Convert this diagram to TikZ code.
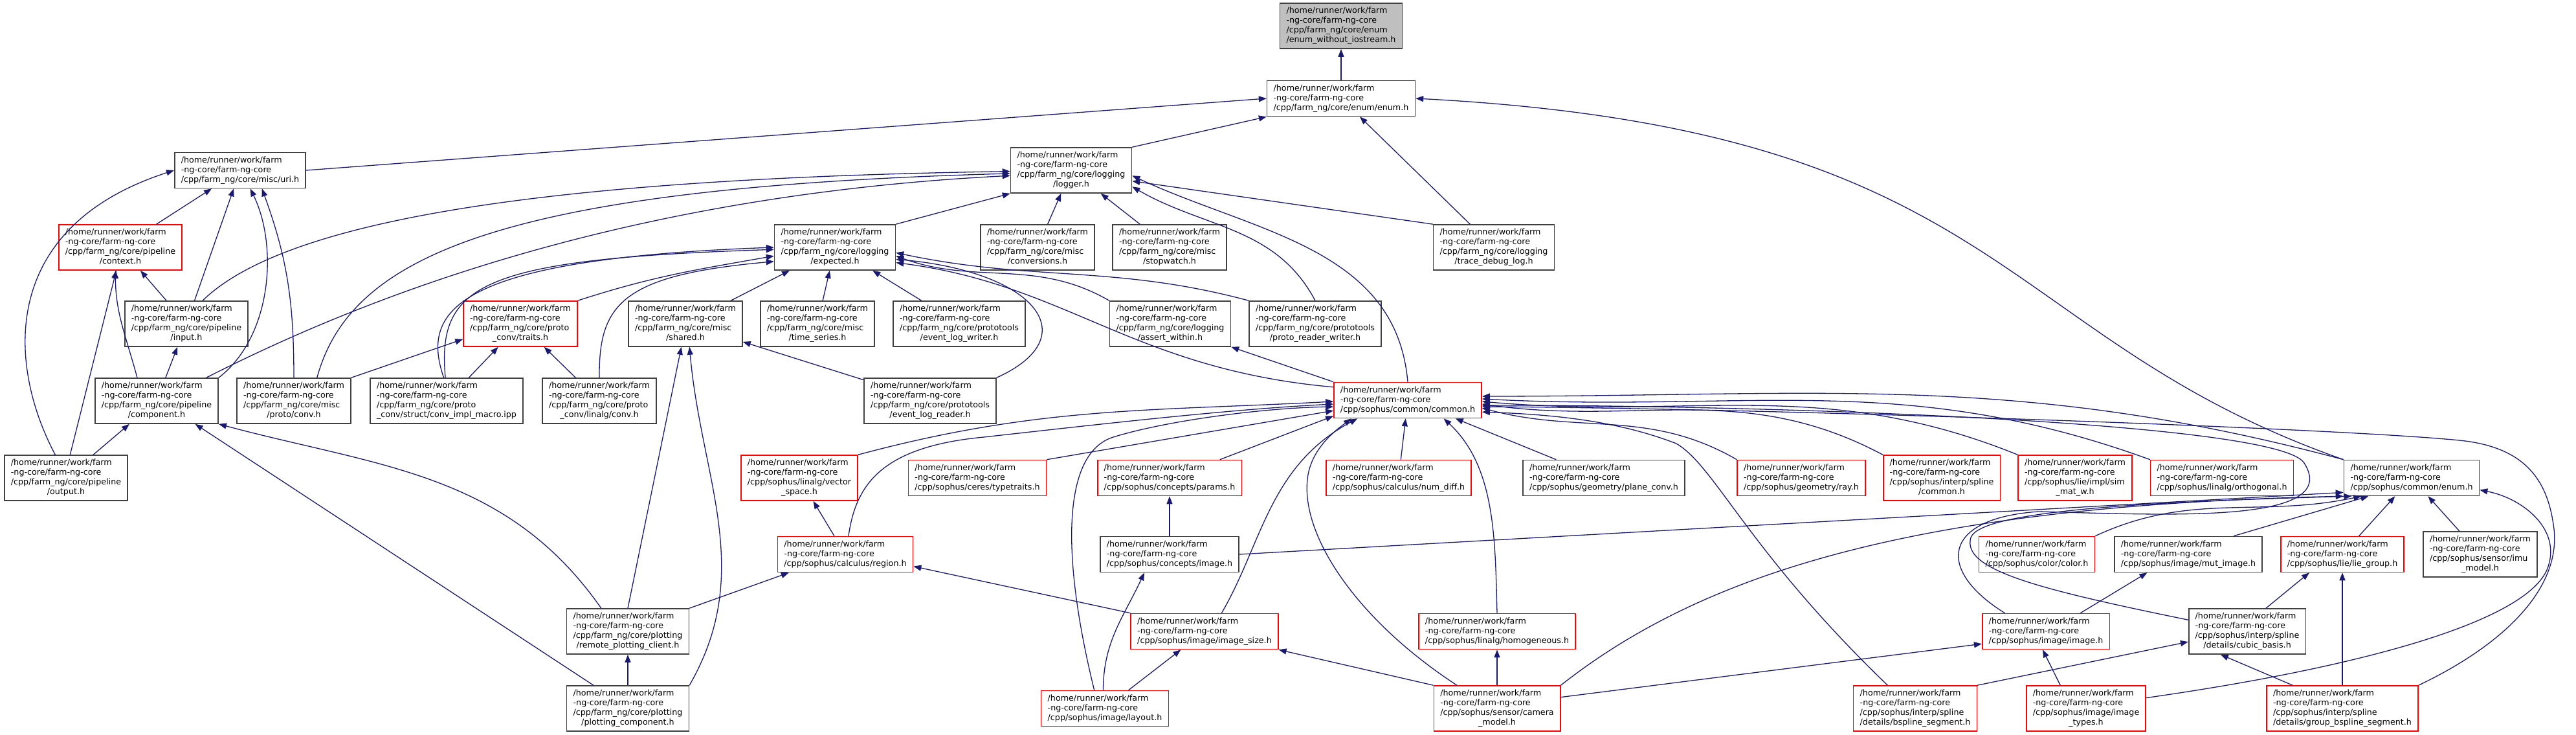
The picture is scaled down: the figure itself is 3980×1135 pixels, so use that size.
\documentclass[tikz,border=0pt]{standalone}
\usepackage{fontspec}
\setmainfont{DejaVu Sans}
\usetikzlibrary{arrows.meta}
\definecolor{edgenavy}{HTML}{191970}
\definecolor{boxedge}{HTML}{404040}
\definecolor{rootfill}{HTML}{BFBFBF}
\newcommand{\incthree}[1]{\begin{tabular}{@{}l@{}}/home/runner/work/farm\\-ng-core/farm-ng-core\\#1\end{tabular}}
\newcommand{\incfour}[2]{\begin{tabular}{@{}l@{}}/home/runner/work/farm\\-ng-core/farm-ng-core\\#1\\\multicolumn{1}{@{}c@{}}{#2}\end{tabular}}

\begin{document}
\begin{tikzpicture}[x=0.5pt, y=-0.5pt, font=\fontsize{6.35}{7.5}\selectfont,
  hfile/.style={draw=boxedge, line width=0.8pt, fill=white, inner xsep=5pt, inner ysep=2.5pt},
  hfilered/.style={hfile, draw=red},
  hfileroot/.style={hfile, fill=rootfill},
  incl/.style={draw=edgenavy, line width=0.65pt, -{Triangle[length=6pt,width=4.5pt]}}]
  \useasboundingbox (0,0) rectangle (3980,1135);

  \node[hfileroot] (root) at (2072,40) {\incfour{/cpp/farm\_ng/core/enum}{/enum\_without\_iostream.h}};
  \node[hfile] (coreenum) at (2072,152) {\incthree{/cpp/farm\_ng/core/enum/enum.h}};
  \node[hfile] (uri) at (371,263) {\incthree{/cpp/farm\_ng/core/misc/uri.h}};
  \node[hfile] (logger) at (1655,263) {\incfour{/cpp/farm\_ng/core/logging}{/logger.h}};
  \node[hfilered] (context) at (186,382) {\incfour{/cpp/farm\_ng/core/pipeline}{/context.h}};
  \node[hfile] (expected) at (1290,382) {\incfour{/cpp/farm\_ng/core/logging}{/expected.h}};
  \node[hfile] (conversions) at (1603,382) {\incfour{/cpp/farm\_ng/core/misc}{/conversions.h}};
  \node[hfile] (stopwatch) at (1807,382) {\incfour{/cpp/farm\_ng/core/misc}{/stopwatch.h}};
  \node[hfile] (tracelog) at (2308,382) {\incfour{/cpp/farm\_ng/core/logging}{/trace\_debug\_log.h}};
  \node[hfile] (input) at (288,500) {\incfour{/cpp/farm\_ng/core/pipeline}{/input.h}};
  \node[hfilered] (traits) at (804,500) {\incfour{/cpp/farm\_ng/core/proto}{\_conv/traits.h}};
  \node[hfile] (shared) at (1059,500) {\incfour{/cpp/farm\_ng/core/misc}{/shared.h}};
  \node[hfile] (timeseries) at (1263,500) {\incfour{/cpp/farm\_ng/core/misc}{/time\_series.h}};
  \node[hfile] (logwriter) at (1482,500) {\incfour{/cpp/farm\_ng/core/prototools}{/event\_log\_writer.h}};
  \node[hfile] (assertwithin) at (1808,500) {\incfour{/cpp/farm\_ng/core/logging}{/assert\_within.h}};
  \node[hfile] (protorw) at (2032,500) {\incfour{/cpp/farm\_ng/core/prototools}{/proto\_reader\_writer.h}};
  \node[hfile] (component) at (242,619) {\incfour{/cpp/farm\_ng/core/pipeline}{/component.h}};
  \node[hfile] (protoconv) at (454,619) {\incfour{/cpp/farm\_ng/core/misc}{/proto/conv.h}};
  \node[hfile] (convimpl) at (690,619) {\incfour{/cpp/farm\_ng/core/proto}{\_conv/struct/conv\_impl\_macro.ipp}};
  \node[hfile] (linalgconv) at (926,619) {\incfour{/cpp/farm\_ng/core/proto}{\_conv/linalg/conv.h}};
  \node[hfile] (logreader) at (1437,619) {\incfour{/cpp/farm\_ng/core/prototools}{/event\_log\_reader.h}};
  \node[hfilered] (common) at (2175,618) {\incthree{/cpp/sophus/common/common.h}};
  \node[hfile] (output) at (102,738) {\incfour{/cpp/farm\_ng/core/pipeline}{/output.h}};
  \node[hfilered] (vectorspace) at (1235,738) {\incfour{/cpp/sophus/linalg/vector}{\_space.h}};
  \node[hfilered] (typetraits) at (1510,738) {\incthree{/cpp/sophus/ceres/typetraits.h}};
  \node[hfilered] (params) at (1807,738) {\incthree{/cpp/sophus/concepts/params.h}};
  \node[hfilered] (numdiff) at (2161,738) {\incthree{/cpp/sophus/calculus/num\_diff.h}};
  \node[hfile] (planeconv) at (2478,738) {\incthree{/cpp/sophus/geometry/plane\_conv.h}};
  \node[hfilered] (ray) at (2783,738) {\incthree{/cpp/sophus/geometry/ray.h}};
  \node[hfilered] (splinecommon) at (3000,738) {\incfour{/cpp/sophus/interp/spline}{/common.h}};
  \node[hfilered] (simmatw) at (3206,738) {\incfour{/cpp/sophus/lie/impl/sim}{\_mat\_w.h}};
  \node[hfilered] (orthogonal) at (3433,738) {\incthree{/cpp/sophus/linalg/orthogonal.h}};
  \node[hfile] (sophusenum) at (3726,738) {\incthree{/cpp/sophus/common/enum.h}};
  \node[hfilered] (region) at (1306,856) {\incthree{/cpp/sophus/calculus/region.h}};
  \node[hfile] (conceptimage) at (1807,856) {\incthree{/cpp/sophus/concepts/image.h}};
  \node[hfilered] (color) at (3147,856) {\incthree{/cpp/sophus/color/color.h}};
  \node[hfile] (mutimage) at (3381,856) {\incthree{/cpp/sophus/image/mut\_image.h}};
  \node[hfilered] (liegroup) at (3619,856) {\incthree{/cpp/sophus/lie/lie\_group.h}};
  \node[hfile] (imumodel) at (3832,856) {\incfour{/cpp/sophus/sensor/imu}{\_model.h}};
  \node[hfile] (remoteclient) at (970,975) {\incfour{/cpp/farm\_ng/core/plotting}{/remote\_plotting\_client.h}};
  \node[hfilered] (imagesize) at (1861,975) {\incthree{/cpp/sophus/image/image\_size.h}};
  \node[hfilered] (homogeneous) at (2313,975) {\incthree{/cpp/sophus/linalg/homogeneous.h}};
  \node[hfilered] (image) at (3161,975) {\incthree{/cpp/sophus/image/image.h}};
  \node[hfile] (cubicbasis) at (3472,975) {\incfour{/cpp/sophus/interp/spline}{/details/cubic\_basis.h}};
  \node[hfile] (plotcomp) at (970,1094) {\incfour{/cpp/farm\_ng/core/plotting}{/plotting\_component.h}};
  \node[hfilered] (layout) at (1707,1094) {\incthree{/cpp/sophus/image/layout.h}};
  \node[hfilered] (camera) at (2313,1094) {\incfour{/cpp/sophus/sensor/camera}{\_model.h}};
  \node[hfilered] (bspline) at (2959,1094) {\incfour{/cpp/sophus/interp/spline}{/details/bspline\_segment.h}};
  \node[hfilered] (imagetypes) at (3223,1094) {\incfour{/cpp/sophus/image/image}{\_types.h}};
  \node[hfilered] (groupbspline) at (3619,1094) {\incfour{/cpp/sophus/interp/spline}{/details/group\_bspline\_segment.h}};

  \draw[incl] (coreenum) -- (root);
  \draw[incl] (uri.east) -- (coreenum.west);
  \draw[incl] (logger.north east) -- (coreenum.south west);
  \draw[incl] (tracelog) -- (coreenum);
  \draw[incl] (sophusenum.north west) .. controls (3080,520) and (3100,200) .. (coreenum.east);

  \draw[incl] (context) -- (uri);
  \draw[incl] (input) -- (uri);
  \draw[incl] (component.north east) .. controls (420,520) and (430,380) .. (uri.-61);
  \draw[incl] (protoconv.north) to[out=90,in=-70] (uri.-40);
  \draw[incl] (output.115) .. controls (10,560) and (0,350) .. (uri.west);

  \draw[incl] (expected.north east) -- (logger.south west);
  \draw[incl] (conversions) -- (logger);
  \draw[incl] (stopwatch) -- (logger);
  \draw[incl] (tracelog.north west) -- (logger.-10);
  \draw[incl] (protorw.north) to[out=118,in=-30] (logger.-15);
  \draw[incl] (common.north) to[out=95,in=-25] (logger.-5);
  \draw[incl] (input.55) .. controls (450,330) and (900,275) .. (logger.181);
  \draw[incl] (protoconv.45) .. controls (540,400) and (760,290) .. (logger.183);
  \draw[incl] (component.25) .. controls (600,440) and (1000,300) .. (logger.185);

  \draw[incl] (input) -- (context);
  \draw[incl] (component.130) to[out=105,in=-90] (context.-102);
  \draw[incl] (output.80) -- (context.-100);
  \draw[incl] (component) -- (input);
  \draw[incl] (output) -- (component);
  \draw[incl] (remoteclient.139) to[out=125,in=-15] (component.south east);
  \draw[incl] (plotcomp.146) -- (component.-31);

  \draw[incl] (shared) -- (expected);
  \draw[incl] (timeseries) -- (expected);
  \draw[incl] (logwriter) -- (expected);
  \draw[incl] (assertwithin.north west) to[out=150,in=-20] (expected.-8);
  \draw[incl] (protorw.north west) to[out=165,in=-12] (expected.-5);
  \draw[incl] (logreader.north east) .. controls (1680,520) and (1600,420) .. (expected.-11);
  \draw[incl] (common.170) .. controls (1750,570) and (1650,440) .. (expected.-14);
  \draw[incl] (traits.north east) to[out=18,in=190] (expected.188);
  \draw[incl] (linalgconv.north) .. controls (925,470) and (960,425) .. (expected.193);
  \draw[incl] (convimpl.97) .. controls (650,480) and (700,400) .. (expected.180);
  \draw[incl] (convimpl.93) .. controls (675,440) and (740,400) .. (expected.182);

  \draw[incl] (protoconv.north east) -- (traits.-165);
  \draw[incl] (convimpl) -- (traits);
  \draw[incl] (linalgconv) -- (traits);
  \draw[incl] (logreader) -- (shared);
  \draw[incl] (remoteclient.north) -- (shared.-100);
  \draw[incl] (plotcomp.north east) to[out=60,in=-85] (shared.-80);
  \draw[incl] (plotcomp) -- (remoteclient);
  \draw[incl] (common.north west) -- (assertwithin.south east);

  \draw[incl] (remoteclient.north east) -- (region.-162);
  \draw[incl] (region) -- (vectorspace);
  \draw[incl] (region.80) .. controls (1322,750) and (1360,690) .. (1520,675) .. controls (1700,655) and (1900,632) .. (common.183);
  \draw[incl] (vectorspace.north east) to[out=15,in=183] (common.181);
  \draw[incl] (typetraits.north east) -- (common.188);
  \draw[incl] (params.20) -- (common.-168);
  \draw[incl] (numdiff) -- (common);
  \draw[incl] (planeconv.159) -- (common.-21);
  \draw[incl] (ray.north west) to[out=150,in=-15] (common.-6);
  \draw[incl] (splinecommon.north west) to[out=152,in=-8] (common.-3);
  \draw[incl] (simmatw.north west) to[out=158,in=-5] (common.-1);
  \draw[incl] (orthogonal.north west) to[out=160,in=-3] (common.1);
  \draw[incl] (sophusenum.north west) to[out=165,in=0] (common.3);
  \draw[incl] (bspline.140) .. controls (2700,850) and (2650,720) .. (2590,685) .. controls (2500,650) and (2400,640) .. (common.-9);
  \draw[incl] (image.156) .. controls (2990,880) and (3000,800) .. (3150,790) .. controls (3350,795) and (3620,810) .. (3560,715) .. controls (3520,650) and (2700,625) .. (common.-4);
  \draw[incl] (groupbspline.north east) .. controls (3880,990) and (3960,900) .. (3945,810) .. controls (3935,740) and (3900,690) .. (3800,680) .. controls (3600,660) and (2700,630) .. (common.-5);

  \draw[incl] (conceptimage) -- (params);
  \draw[incl] (conceptimage.east) -- (sophusenum.-168);
  \draw[incl] (imagesize.north west) -- (region.-10);
  \draw[incl] (imagesize.47) .. controls (1950,840) and (1960,720) .. (common.-160);
  \draw[incl] (layout.120) .. controls (1640,860) and (1640,700) .. (1720,675) .. controls (1800,650) and (1950,630) .. (common.185);
  \draw[incl] (layout.95) to[out=90,in=-115] (conceptimage.-144);
  \draw[incl] (layout) -- (imagesize);
  \draw[incl] (camera.north west) -- (imagesize.south east);
  \draw[incl] (camera.150) .. controls (2100,960) and (2010,830) .. (2020,740) .. controls (2025,690) and (2070,660) .. (common.-162);
  \draw[incl] (camera) -- (homogeneous);
  \draw[incl] (homogeneous.north) .. controls (2310,830) and (2310,720) .. (common.-27);
  \draw[incl] (camera.10) -- (image.-169);
  \draw[incl] (camera.north east) .. controls (2650,870) and (3000,780) .. (sophusenum.-165);

  \draw[incl] (color.north east) to[out=25,in=192] (sophusenum.-160);
  \draw[incl] (mutimage.22) -- (sophusenum.-157);
  \draw[incl] (liegroup) -- (sophusenum);
  \draw[incl] (imumodel) -- (sophusenum);
  \draw[incl] (image.28) -- (mutimage.-156);
  \draw[incl] (cubicbasis.169) .. controls (3150,910) and (3030,880) .. (3045,830) .. controls (3060,790) and (3300,775) .. (sophusenum.-163);
  \draw[incl] (imagetypes.138) -- (image.-100);
  \draw[incl] (cubicbasis.51) -- (liegroup.-151);
  \draw[incl] (groupbspline) -- (liegroup);
  \draw[incl] (bspline.north east) -- (cubicbasis.-170);
  \draw[incl] (groupbspline.155) -- (cubicbasis.-139);
  \draw[incl] (imagetypes.10) .. controls (3650,1030) and (3900,960) .. (3935,880) .. controls (3960,820) and (3900,770) .. (sophusenum.-10);
\end{tikzpicture}
\end{document}
